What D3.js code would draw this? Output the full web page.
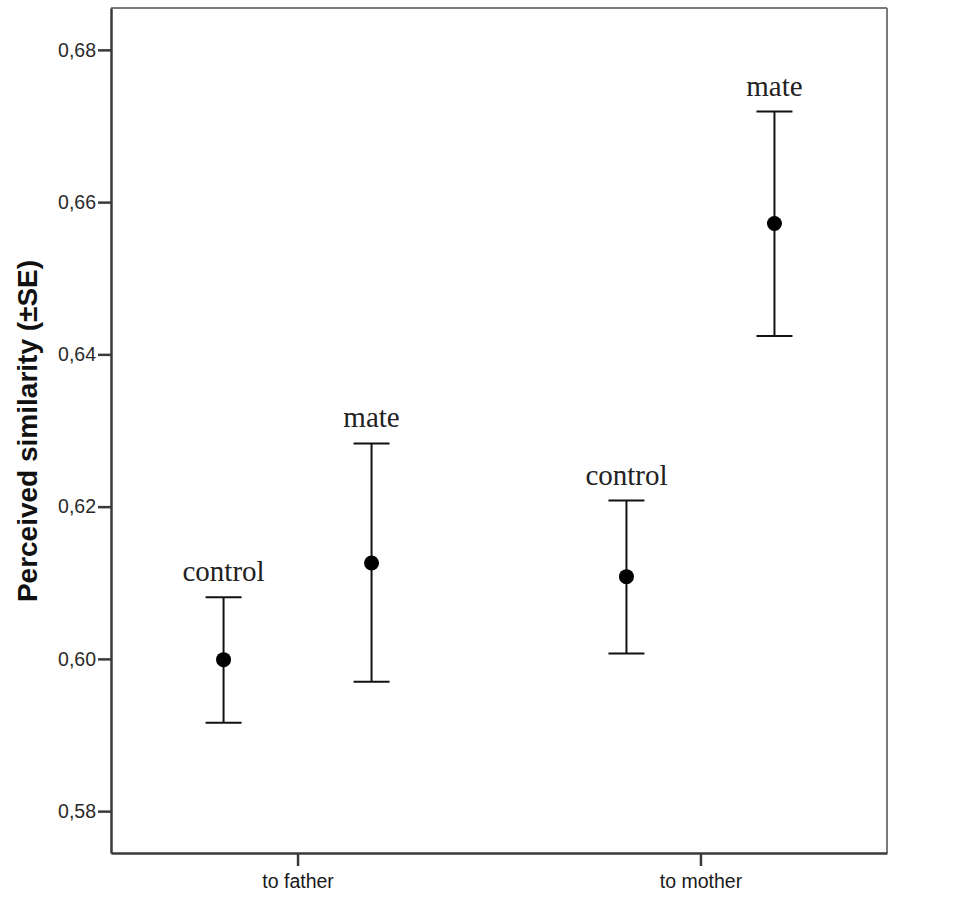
<!DOCTYPE html>
<html>
<head>
<meta charset="utf-8">
<script src="https://cdn.jsdelivr.net/npm/d3@7"></script>
<style>
	body { margin: 0; background: #fff; }
</style>
</head>
<body>
<div id="chart"></div>
<script>
const groups = ['to father', 'to mother'];
const conditions = ['control', 'mate'];

// means and ±SE bounds, one entry per group
const controlMean = [0.5999, 0.6108];
const controlLow = [0.5916, 0.6007];
const controlHigh = [0.6081, 0.6208];
const mateMean = [0.6126, 0.6572];
const mateLow = [0.5970, 0.6424];
const mateHigh = [0.6283, 0.6719];

const yTicks = [0.58, 0.60, 0.62, 0.64, 0.66, 0.68];
const yTitle = 'Perceived similarity (±SE)';

const WIDTH = 973;
const HEIGHT = 904;
const margin = {top: 8, right: 86, bottom: 51, left: 111};
const TICK_SIZE = 13;
const CAP_WIDTH = 36;
const AXIS_COLOR = '#3a3a3a';
const FRAME_COLOR = '#7a7a7a';
const SANS = 'Liberation Sans, Arial, sans-serif';
const SERIF = 'Liberation Serif, Times New Roman, serif';

const rows = [];
groups.forEach((g, i) => {
	rows.push({group: g, cond: 'control', mean: controlMean[i], low: controlLow[i], high: controlHigh[i]});
	rows.push({group: g, cond: 'mate', mean: mateMean[i], low: mateLow[i], high: mateHigh[i]});
});

const svg = d3.select('#chart').append('svg')
	.attr('width', WIDTH)
	.attr('height', HEIGHT);

const x0 = WIDTH - margin.right;
const y0 = HEIGHT - margin.bottom;

const xScale = d3.scalePoint()
	.domain(groups)
	.range([margin.left, x0])
	.padding(0.463);

const subScale = d3.scalePoint()
	.domain(conditions)
	.range([-74, 74]);

const yScale = d3.scaleLinear()
	.domain([0.5745, 0.6855])
	.range([y0, margin.top]);

// frame: top and right edges are lighter
svg.append('line')
	.attr('x1', margin.left).attr('x2', x0)
	.attr('y1', margin.top).attr('y2', margin.top)
	.attr('stroke', FRAME_COLOR).attr('stroke-width', 2);
svg.append('line')
	.attr('x1', x0).attr('x2', x0)
	.attr('y1', margin.top).attr('y2', y0)
	.attr('stroke', FRAME_COLOR).attr('stroke-width', 2);

const yAxis = d3.axisLeft(yScale)
	.tickValues(yTicks)
	.tickFormat(d => d3.format('.2f')(d).replace('.', ','))
	.tickSize(TICK_SIZE)
	.tickSizeOuter(0)
	.tickPadding(2);

svg.append('g')
	.attr('class', 'y-axis')
	.attr('transform', `translate(${margin.left},0)`)
	.call(yAxis)
	.call(g => g.select('.domain').attr('stroke', AXIS_COLOR).attr('stroke-width', 2.5))
	.call(g => g.selectAll('line').attr('stroke', AXIS_COLOR).attr('stroke-width', 2.5))
	.call(g => g.selectAll('text')
		.attr('fill', '#2a2a2a')
		.style('font-family', SANS)
		.style('font-size', '19.5px'));

const xAxis = d3.axisBottom(xScale)
	.tickSize(TICK_SIZE)
	.tickSizeOuter(0)
	.tickPadding(8);

svg.append('g')
	.attr('class', 'x-axis')
	.attr('transform', `translate(0,${y0})`)
	.call(xAxis)
	.call(g => g.select('.domain').attr('stroke', AXIS_COLOR).attr('stroke-width', 2.5))
	.call(g => g.selectAll('line').attr('stroke', AXIS_COLOR).attr('stroke-width', 2.5))
	.call(g => g.selectAll('text')
		.attr('fill', '#1a1a1a')
		.style('font-family', SANS)
		.style('font-size', '19.5px'));

// axis title
svg.append('text')
	.attr('transform', 'rotate(-90)')
	.attr('x', -431)
	.attr('y', 37)
	.style('text-anchor', 'middle')
	.style('font-family', SANS)
	.style('font-weight', 'bold')
	.style('font-size', '28px')
	.attr('fill', '#111')
	.text(yTitle);

const cx = d => xScale(d.group) + subScale(d.cond);

const marks = svg.append('g').attr('class', 'marks')
	.selectAll('g')
	.data(rows)
	.join('g');

marks.append('line')
	.attr('x1', cx).attr('x2', cx)
	.attr('y1', d => yScale(d.low))
	.attr('y2', d => yScale(d.high))
	.attr('stroke', '#111')
	.attr('stroke-width', 2);

marks.selectAll('.cap')
	.data(d => [d.low, d.high].map(v => ({v, x: cx(d)})))
	.join('line')
	.attr('class', 'cap')
	.attr('x1', d => d.x - CAP_WIDTH / 2)
	.attr('x2', d => d.x + CAP_WIDTH / 2)
	.attr('y1', d => yScale(d.v))
	.attr('y2', d => yScale(d.v))
	.attr('stroke', '#111')
	.attr('stroke-width', 2);

marks.append('circle')
	.attr('cx', cx)
	.attr('cy', d => yScale(d.mean))
	.attr('r', 7.5)
	.attr('fill', '#000');

marks.append('text')
	.attr('x', cx)
	.attr('y', d => yScale(d.high) - 16)
	.style('text-anchor', 'middle')
	.style('font-family', SERIF)
	.style('font-size', '29px')
	.attr('fill', '#222')
	.text(d => d.cond);
</script>
</body>
</html>
